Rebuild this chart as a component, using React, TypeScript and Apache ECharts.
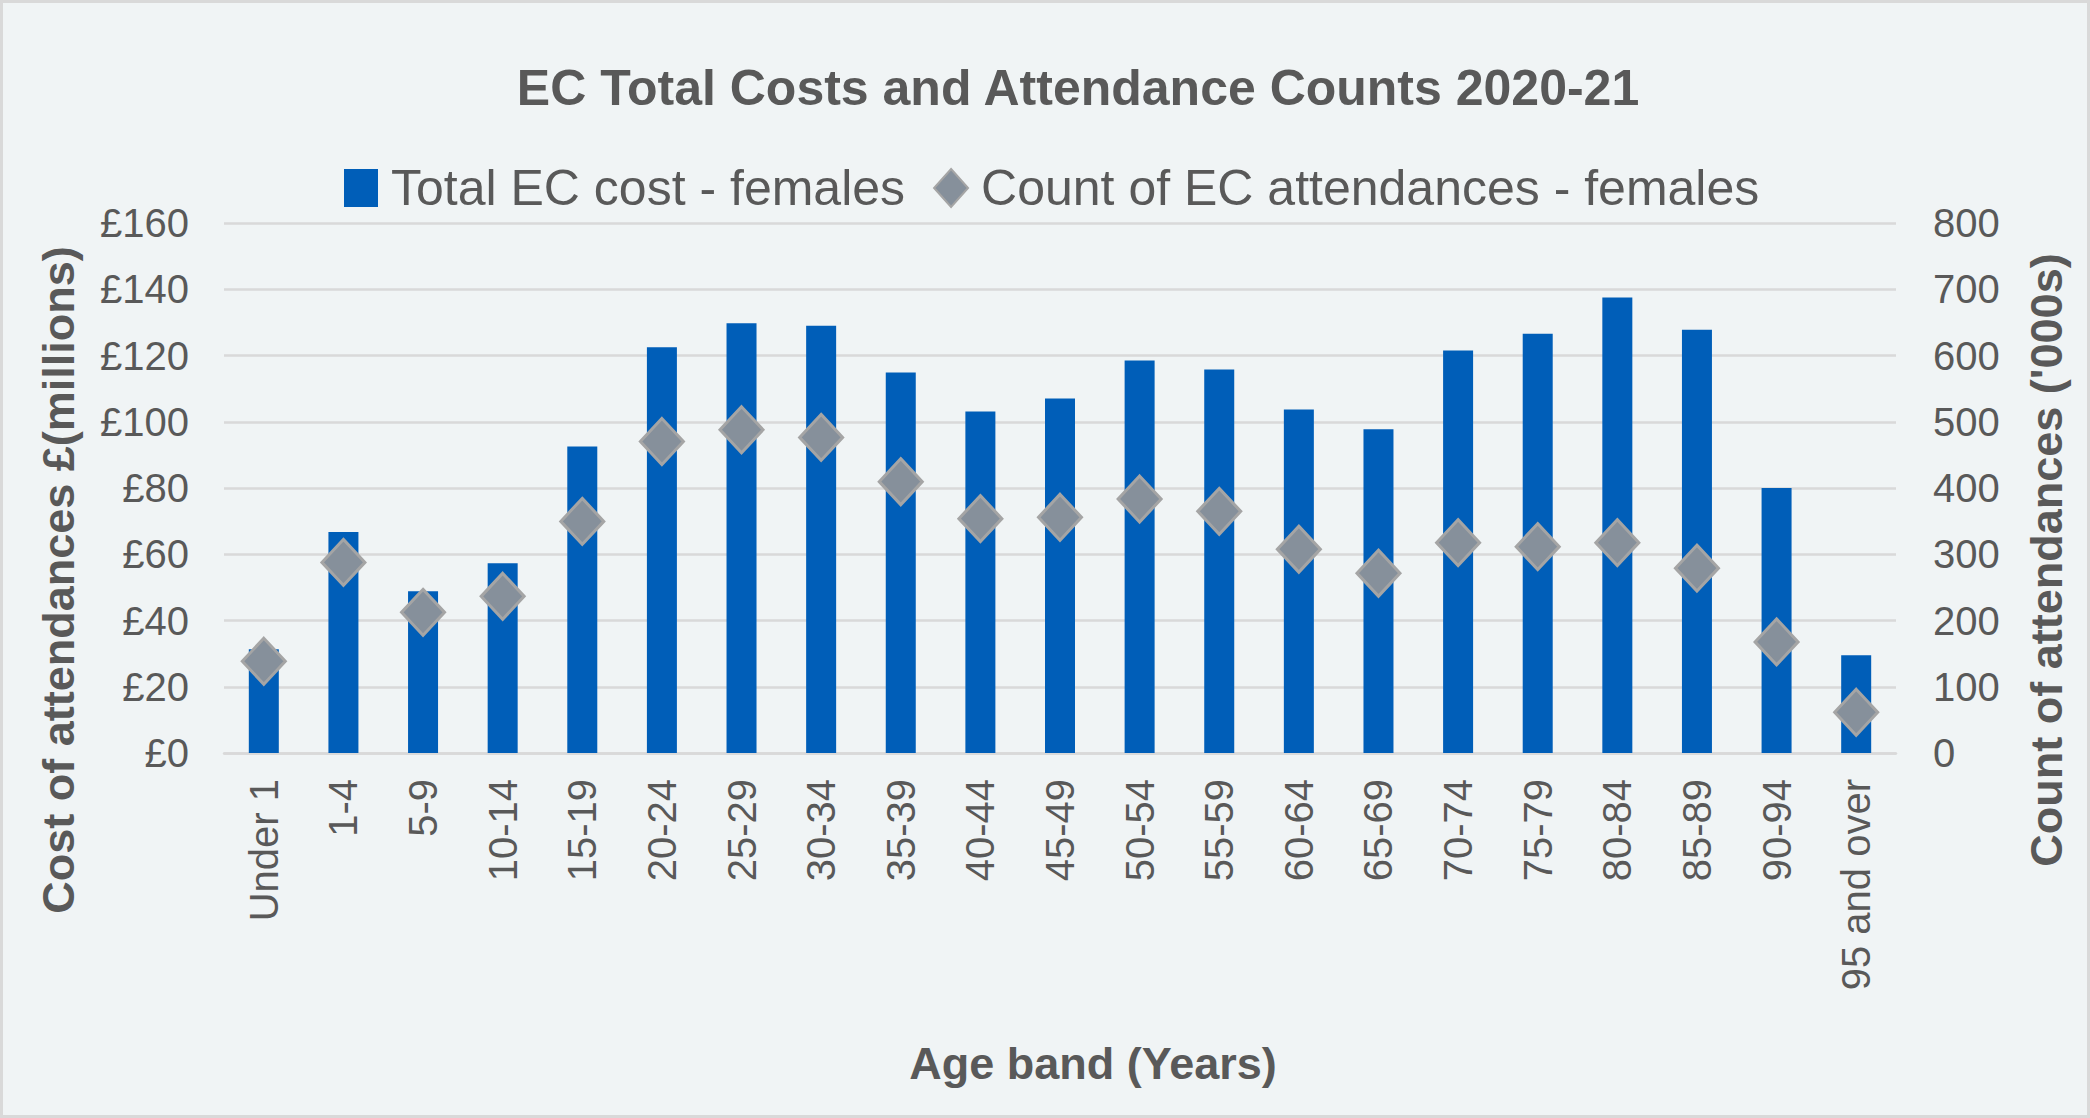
import React, { useEffect, useRef } from "react";
import * as echarts from "echarts";

// Age bands along the category axis
const ageBands = [
  "Under 1", "1-4", "5-9", "10-14", "15-19", "20-24", "25-29", "30-34",
  "35-39", "40-44", "45-49", "50-54", "55-59", "60-64", "65-69", "70-74",
  "75-79", "80-84", "85-89", "90-94", "95 and over",
];

// Total EC cost for females, £ millions (left axis)
const costMillions = [
  31.3, 66.7, 48.8, 57.3, 92.5, 122.5, 129.7, 129.0, 114.9, 103.1, 107.0,
  118.5, 115.8, 103.7, 97.7, 121.5, 126.6, 137.5, 127.8, 80.0, 29.5,
];

// Count of EC attendances for females, thousands (right axis)
const attendancesThousands = [
  138.5, 287.7, 212.3, 236.5, 349.6, 470.2, 487.9, 476.4, 409.5, 353.7, 355.8,
  383.4, 364.8, 307.6, 271.4, 317.5, 311.5, 317.5, 279.0, 167.7, 61.5,
];

const costAxisMax = 160;
const costAxisStep = 20;
const countAxisMax = 800;
const countAxisStep = 100;

const chartTitle = "EC Total Costs and Attendance Counts 2020-21";
const costSeriesName = "Total EC cost - females";
const countSeriesName = "Count of EC attendances - females";
const costAxisTitle = "Cost of attendances £(millions)";
const countAxisTitle = "Count of attendances ('000s)";
const categoryAxisTitle = "Age band (Years)";

const FONT = "'Liberation Sans', Arial, Helvetica, sans-serif";
const TEXT = "#595959";
const GRID = "#D9D9D9";

export default function App() {
  const ref = useRef<HTMLDivElement>(null);

  useEffect(() => {
    if (!ref.current) return;
    const chart = echarts.init(ref.current, null, { renderer: "svg" });

    chart.setOption({
      animation: false,
      backgroundColor: "#F0F4F5",
      textStyle: { fontFamily: FONT, color: TEXT },
      grid: { left: 224, right: 194, top: 223, bottom: 365, containLabel: false },
      legend: {
        left: 339,
        top: 158,
        itemWidth: 34,
        itemHeight: 38,
        itemGap: 28,
        textStyle: { fontSize: 50, color: TEXT, fontFamily: FONT, padding: [0, 0, 0, 8] },
        data: [{ name: costSeriesName, icon: "rect" }, { name: countSeriesName }],
      },
      xAxis: {
        type: "category",
        data: ageBands,
        axisTick: { show: false },
        axisLine: { show: true, lineStyle: { color: GRID, width: 2.5 } },
        axisLabel: {
          interval: 0,
          rotate: 90,
          margin: 26,
          fontSize: 40,
          color: TEXT,
          fontFamily: FONT,
        },
      },
      yAxis: [
        {
          type: "value",
          min: 0,
          max: costAxisMax,
          interval: costAxisStep,
          axisLine: { show: false },
          axisTick: { show: false },
          splitLine: { show: true, lineStyle: { color: GRID, width: 2.5 } },
          axisLabel: {
            formatter: "£{value}",
            fontSize: 40,
            margin: 35,
            color: TEXT,
            fontFamily: FONT,
          },
        },
        {
          type: "value",
          position: "right",
          min: 0,
          max: countAxisMax,
          interval: countAxisStep,
          axisLine: { show: false },
          axisTick: { show: false },
          splitLine: { show: false },
          axisLabel: {
            fontSize: 40,
            margin: 37,
            color: TEXT,
            fontFamily: FONT,
          },
        },
      ],
      series: [
        {
          name: costSeriesName,
          type: "bar",
          yAxisIndex: 0,
          data: costMillions,
          barWidth: 30,
          itemStyle: { color: "#005EB8" },
          z: 2,
        },
        {
          name: countSeriesName,
          type: "scatter",
          yAxisIndex: 1,
          data: attendancesThousands,
          symbol: "diamond",
          symbolSize: [43, 46],
          itemStyle: {
            color: "#86909B",
            borderColor: "#A5A5A5",
            borderWidth: 3,
            opacity: 1,
          },
          z: 3,
        },
      ],
      graphic: [
        {
          type: "rect",
          silent: true,
          z: 100,
          shape: { x: 1.5, y: 1.5, width: 2087, height: 1115 },
          style: { fill: "none", stroke: GRID, lineWidth: 3 },
        },
        {
          type: "text",
          x: 1078,
          y: 88,
          style: {
            text: chartTitle,
            align: "center",
            verticalAlign: "middle",
            font: `bold 50px ${FONT}`,
            fill: TEXT,
          },
        },
        {
          type: "text",
          x: 58,
          y: 580,
          rotation: Math.PI / 2,
          style: {
            text: costAxisTitle,
            align: "center",
            verticalAlign: "middle",
            font: `bold 45px ${FONT}`,
            fill: TEXT,
          },
        },
        {
          type: "text",
          x: 2046,
          y: 560,
          rotation: Math.PI / 2,
          style: {
            text: countAxisTitle,
            align: "center",
            verticalAlign: "middle",
            font: `bold 45px ${FONT}`,
            fill: TEXT,
          },
        },
        {
          type: "text",
          x: 1093,
          y: 1063,
          style: {
            text: categoryAxisTitle,
            align: "center",
            verticalAlign: "middle",
            font: `bold 45px ${FONT}`,
            fill: TEXT,
          },
        },
      ],
    });

    return () => chart.dispose();
  }, []);

  return (
    <div
      ref={ref}
      style={{ position: "fixed", left: 0, top: 0, width: 2090, height: 1118 }}
    />
  );
}
